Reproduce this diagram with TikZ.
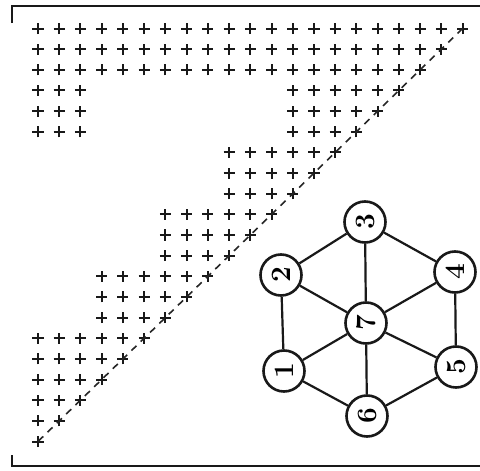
\documentclass[tikz,border=0pt]{standalone}
\usepackage{tikz}
\usetikzlibrary{shapes.misc, positioning, calc}
\tikzset{
    pmark/.style={cross out, draw=black!90, line width=2pt, minimum size=5.8pt, inner sep=0pt, rotate=45},
    vtx/.style={circle, draw=black!90, line width=2.6pt, minimum size=41pt, inner sep=0pt, fill=white, font=\fontsize{28}{28}\selectfont\bfseries},
    edge/.style={draw=black!90, line width=2.2pt},
}

\begin{document}
\begin{tikzpicture}[
    x=1pt, y=-1pt,
    diag/.style={draw=black!85, line width=1.6pt, dash pattern=on 7pt off 6pt},
    frame/.style={draw=black!90, line width=2.8pt}
]
\useasboundingbox (0,0) rectangle (480,471);

% frame
\draw[frame] (12,23) -- (12,6) -- (480,6);
\draw[frame] (12,455) -- (12,466) -- (480,466);

% sparsity pattern, row/first col/last col
\foreach \r/\a/\b in {0/0/20, 1/0/19, 2/0/18, 3/0/2, 3/12/17, 4/0/2, 4/12/16,
    5/0/2, 5/12/15, 6/9/14, 7/9/13, 8/9/12, 9/6/11, 10/6/10, 11/6/9,
    12/3/8, 13/3/7, 14/3/6, 15/0/5, 16/0/4, 17/0/3, 18/0/2, 19/0/1, 20/0/0}
    \foreach \c in {\a,...,\b}
        \node[pmark] (m-\r-\c) at ({38+21.23*\c},{28.5+20.65*\r}) {};

\draw[diag] (m-0-20.center) -- (m-20-0.center);

% graph
\node[vtx, rotate=90] (v3) at (365,222) {3};
\node[vtx, rotate=90] (v2) at (281,275) {2};
\node[vtx, rotate=90] (v4) at (455,272) {4};
\node[vtx, rotate=90] (v7) at (366,323) {7};
\node[vtx, rotate=90] (v1) at (284,371) {1};
\node[vtx, rotate=90] (v5) at (456,367) {5};
\node[vtx, rotate=90] (v6) at (367,416) {6};

\foreach \u/\v in {3/2, 3/4, 2/1, 4/5, 1/6, 5/6, 7/1, 7/2, 7/3, 7/4, 7/5, 7/6}
    \draw[edge] (v\u) -- (v\v);

\end{tikzpicture}
\end{document}
